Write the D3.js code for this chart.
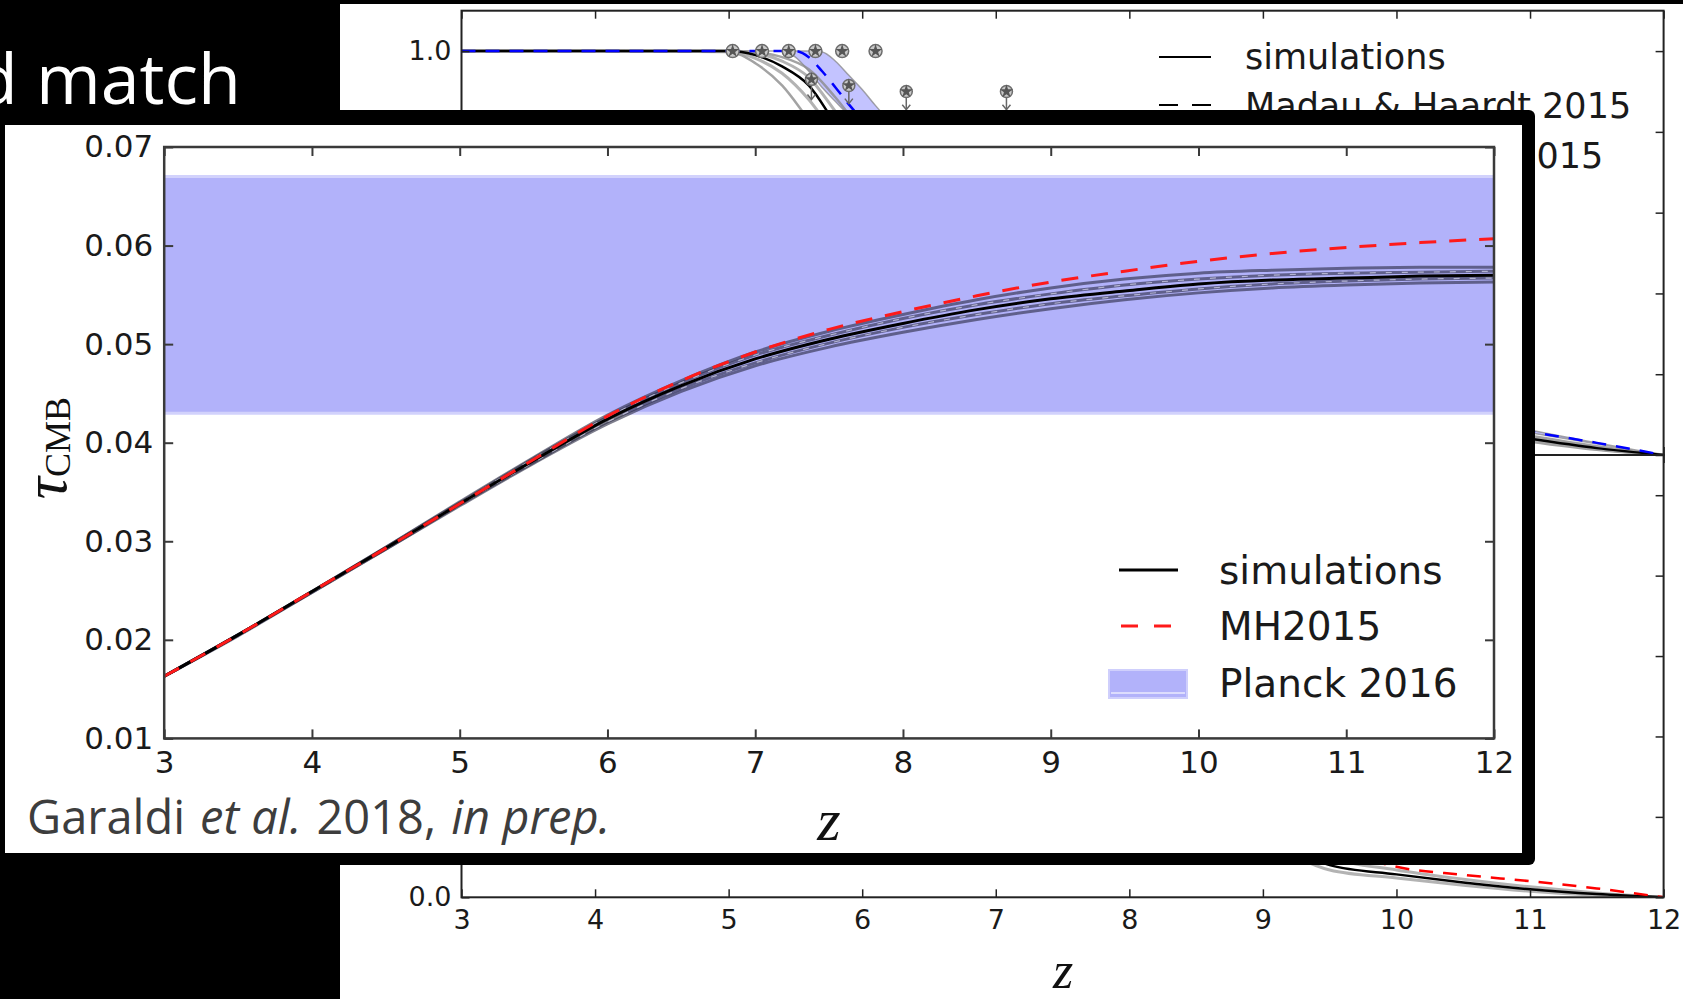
<!DOCTYPE html>
<html>
<head>
<meta charset="utf-8">
<script src="https://cdn.jsdelivr.net/npm/d3@7"></script>
<style>
  html, body { margin: 0; padding: 0; background: #000; overflow: hidden; }
  svg { display: block; }
</style>
</head>
<body>
<script>
// ---------------- data: inset figure, CMB optical depth vs redshift ----------------
const zGrid = [3, 3.5, 4, 4.5, 5, 5.5, 6, 6.5, 7, 7.5, 8, 8.5, 9, 9.5, 10, 10.5, 11, 11.5, 12];
const tauSimMean  = [0.0163, 0.0205, 0.0249, 0.0293, 0.0338, 0.0382, 0.0424, 0.0458, 0.0485, 0.0505, 0.0521, 0.0535, 0.0546, 0.0554, 0.0561, 0.0565, 0.0567, 0.0569, 0.0570];
const tauSimHigh1 = [0.0163, 0.0205, 0.0249, 0.0294, 0.0340, 0.0385, 0.0428, 0.0463, 0.0492, 0.0513, 0.0530, 0.0545, 0.0557, 0.0566, 0.0572, 0.0575, 0.0577, 0.0578, 0.0578];
const tauSimHigh2 = [0.0163, 0.0205, 0.0249, 0.0294, 0.0339, 0.0384, 0.0426, 0.0461, 0.0489, 0.0509, 0.0526, 0.0540, 0.0551, 0.0560, 0.0566, 0.0570, 0.0572, 0.0573, 0.0574];
const tauSimLow1  = [0.0163, 0.0205, 0.0248, 0.0292, 0.0337, 0.0380, 0.0421, 0.0455, 0.0481, 0.0501, 0.0517, 0.0530, 0.0541, 0.0549, 0.0556, 0.0561, 0.0564, 0.0566, 0.0567];
const tauSimLow2  = [0.0163, 0.0204, 0.0248, 0.0292, 0.0336, 0.0379, 0.0419, 0.0452, 0.0478, 0.0497, 0.0512, 0.0525, 0.0536, 0.0545, 0.0552, 0.0557, 0.0560, 0.0562, 0.0563];
const tauMH2015   = [0.0163, 0.0205, 0.0249, 0.0293, 0.0338, 0.0383, 0.0427, 0.0463, 0.0492, 0.0515, 0.0533, 0.0549, 0.0563, 0.0574, 0.0584, 0.0592, 0.0598, 0.0603, 0.0607];
const planckRange = [0.043, 0.067];
const zTicks   = [3, 4, 5, 6, 7, 8, 9, 10, 11, 12];
const tauTicks = [0.01, 0.02, 0.03, 0.04, 0.05, 0.06, 0.07];
const insetLegend = ["simulations", "MH2015", "Planck 2016"];
const citeParts = ["Garaldi", "et al.", "2018,", "in prep."];
const citeItalic = [false, true, false, true];

// ---------------- data: background figure, ionised fractions (two panels) ----------------
const zTop    = [3, 4, 5, 5.2, 5.4, 5.6, 5.8, 6, 6.5, 7, 7.5, 8, 9, 10, 11, 11.5, 12];
const xHSim   = [1, 1, 1, 0.990, 0.962, 0.915, 0.820, 0.730, 0.560, 0.440, 0.350, 0.280, 0.170, 0.095, 0.040, 0.017, 0];
const xHSimA  = [1, 1, 0.998, 0.970, 0.915, 0.830, 0.750, 0.680, 0.525, 0.410, 0.330, 0.260, 0.155, 0.085, 0.033, 0.013, 0];
const xHSimB  = [1, 1, 1, 0.997, 0.985, 0.955, 0.885, 0.800, 0.610, 0.480, 0.380, 0.300, 0.185, 0.105, 0.048, 0.022, 0];
const xHSimC  = [1, 1, 0.999, 0.982, 0.945, 0.880, 0.790, 0.705, 0.545, 0.425, 0.340, 0.270, 0.162, 0.090, 0.036, 0.015, 0];
const xHSimD  = [1, 1, 1, 0.995, 0.975, 0.935, 0.850, 0.760, 0.585, 0.460, 0.365, 0.290, 0.178, 0.100, 0.044, 0.019, 0];
const zBlue   = [3, 5, 5.5, 5.6, 5.7, 5.8, 5.9, 6, 6.5, 7, 7.5, 8, 9, 10, 11, 11.5, 12];
const xHMH    = [1, 1, 1, 0.985, 0.950, 0.910, 0.868, 0.830, 0.660, 0.520, 0.420, 0.340, 0.210, 0.120, 0.058, 0.030, 0];
const zBand   = [3, 5.4, 5.5, 5.6, 5.7, 5.8, 5.9, 6, 6.1, 6.5, 7, 8, 9, 10, 11, 12];
const xHBandLo = [1, 1, 0.985, 0.950, 0.910, 0.875, 0.840, 0.800, 0.770, 0.640, 0.500, 0.310, 0.190, 0.110, 0.055, 0];
const xHBandHi = [1, 1, 1, 1, 0.998, 0.975, 0.940, 0.905, 0.865, 0.720, 0.570, 0.370, 0.230, 0.135, 0.062, 0];

const zBot     = [3, 4, 5, 6, 7, 8, 9, 9.5, 10, 10.5, 11, 11.5, 12];
const xHeSim   = [1, 1, 0.990, 0.930, 0.750, 0.450, 0.170, 0.080, 0.057, 0.037, 0.020, 0.008, 0];
const xHeSimA  = [1, 1, 0.992, 0.940, 0.780, 0.500, 0.200, 0.100, 0.068, 0.045, 0.026, 0.011, 0];
const xHeSimB  = [1, 1, 0.985, 0.920, 0.720, 0.410, 0.150, 0.068, 0.048, 0.030, 0.015, 0.005, 0];
const xHeMH    = [1, 1, 0.995, 0.960, 0.850, 0.600, 0.260, 0.130, 0.076, 0.056, 0.040, 0.022, 0];

// quasar / Lyman-alpha constraints on the hydrogen panel
const obsZ     = [5.03, 5.25, 5.45, 5.65, 5.85, 6.10];
const obsXH    = [1.0, 1.0, 1.0, 1.0, 1.0, 1.0];
const limZ     = [5.62, 5.90, 6.33, 7.08];
const limXH    = [0.930, 0.915, 0.900, 0.900];
const limEnd   = [0.880, 0.870, 0.855, 0.855];
const fracTicks = [0, 0.2, 0.4, 0.6, 0.8, 1.0];
const topPanelLabels = [1.0];   // the only labelled fraction tick left uncovered, per panel
const botPanelLabels = [0];
const bgLegend = ["simulations", "Madau & Haardt 2015", "Bouwens et al. 2015"];

// ---------------- page ----------------
const W = 1683, H = 999;
const svg = d3.select("body").append("svg").attr("width", W).attr("height", H);
svg.append("rect").attr("width", W).attr("height", H).attr("fill", "#000");

const SANS = "'DejaVu Sans', sans-serif";
const SERIF = "'Liberation Serif', 'DejaVu Serif', serif";
const SLIDE = "'Open Sans', 'Noto Sans', sans-serif";

// slide heading (runs off the left edge)
svg.append("text").attr("x", 241).attr("y", 104).attr("text-anchor", "end")
  .attr("font-family", SLIDE).attr("font-size", 70).attr("fill", "#fff")
  .text("d match");

const pairs = (xs, ys) => xs.map((x, i) => [x, ys[i]]);

// ================= background figure =================
const bg = svg.append("g");
bg.append("rect").attr("x", 340).attr("y", 4).attr("width", W - 340).attr("height", H - 4).attr("fill", "#fff");

const bx = d3.scaleLinear().domain([3, 12]).range([461.5, 1663.6]);
const byTop = d3.scaleLinear().domain([0, 1.1]).range([455, 10.7]);
const byBot = d3.scaleLinear().domain([0, 1.1]).range([897.3, 455]);

const defs = svg.append("defs");
defs.append("clipPath").attr("id", "clipTop").append("rect")
  .attr("x", bx(3)).attr("y", byTop(1.1)).attr("width", bx(12) - bx(3)).attr("height", byTop(0) - byTop(1.1));
defs.append("clipPath").attr("id", "clipBot").append("rect")
  .attr("x", bx(3)).attr("y", byBot(1.1)).attr("width", bx(12) - bx(3)).attr("height", byBot(0) - byBot(1.1));

function drawPanelLines(g, y, sets) {
  const line = d3.line().x(d => bx(d[0])).y(d => y(d[1])).curve(d3.curveMonotoneX);
  sets.forEach(s => {
    g.append("path").attr("d", line(pairs(s.x, s.y))).attr("fill", "none")
      .attr("stroke", s.color).attr("stroke-width", s.w)
      .attr("stroke-dasharray", s.dash || null).attr("stroke-opacity", s.op || 1);
  });
}

// hydrogen panel
const gTop = bg.append("g").attr("clip-path", "url(#clipTop)");
const bandArea = d3.area().x(d => bx(d[0])).y0(d => byTop(d[1])).y1(d => byTop(d[2])).curve(d3.curveMonotoneX);
gTop.append("path").attr("d", bandArea(zBand.map((z, i) => [z, xHBandLo[i], xHBandHi[i]])))
  .attr("fill", "rgba(40,40,255,0.28)").attr("stroke", "rgba(130,130,130,0.7)").attr("stroke-width", 1.5);
drawPanelLines(gTop, byTop, [
  { x: zTop, y: xHSimA, color: "#8c8c8c", w: 2.5, op: 0.8 },
  { x: zTop, y: xHSimB, color: "#8c8c8c", w: 2.5, op: 0.8 },
  { x: zTop, y: xHSimC, color: "#a0a0a0", w: 3, op: 0.8 },
  { x: zTop, y: xHSimD, color: "#a0a0a0", w: 3, op: 0.8 },
  { x: zTop, y: xHSim, color: "#000", w: 2.5 },
  { x: zBlue, y: xHMH, color: "#0000ff", w: 2.5, dash: "14,10" }
]);

// constraints: circled stars and limits with arrows
const star = d3.symbol().type(d3.symbolStar).size(55);
obsZ.forEach((z, i) => {
  const g = gTop.append("g").attr("transform", `translate(${bx(z)},${byTop(obsXH[i])})`);
  g.append("circle").attr("r", 6.5).attr("fill", "#c9c9c9").attr("stroke", "#6d6d6d").attr("stroke-width", 1.5);
  g.append("path").attr("d", star()).attr("fill", "#555");
});
limZ.forEach((z, i) => {
  const x = bx(z), y0 = byTop(limXH[i]), y1 = byTop(limEnd[i]);
  gTop.append("line").attr("x1", x).attr("x2", x).attr("y1", y0).attr("y2", y1).attr("stroke", "#666").attr("stroke-width", 1.5);
  gTop.append("path").attr("d", `M${x - 4},${y1 - 5}L${x},${y1}L${x + 4},${y1 - 5}`).attr("fill", "none").attr("stroke", "#666").attr("stroke-width", 1.5);
  const g = gTop.append("g").attr("transform", `translate(${x},${y0})`);
  g.append("circle").attr("r", 6).attr("fill", "#c9c9c9").attr("stroke", "#6d6d6d").attr("stroke-width", 1.5);
  g.append("path").attr("d", star()).attr("fill", "#555");
});

// helium panel
const gBot = bg.append("g").attr("clip-path", "url(#clipBot)");
drawPanelLines(gBot, byBot, [
  { x: zBot, y: xHeSimA, color: "#a0a0a0", w: 3, op: 0.8 },
  { x: zBot, y: xHeSimB, color: "#a0a0a0", w: 3, op: 0.8 },
  { x: zBot, y: xHeSim, color: "#000", w: 2.5 },
  { x: zBot, y: xHeMH, color: "#ff0000", w: 2.5, dash: "14,10" }
]);

// background axes (ticks pointing inward, matplotlib classic look)
function styleAxis(g, fs) {
  g.select(".domain").remove();
  g.selectAll(".tick line").attr("stroke", "#222").attr("stroke-width", 1.5);
  g.selectAll(".tick text").attr("font-family", SANS).attr("font-size", fs).attr("fill", "#1a1a1a");
}
const bgFS = 27;
const f1 = d3.format(".1f");
[byTop, byBot].forEach((y, k) => {
  const y0 = y.range()[0], y1 = y.range()[1];
  const shown = k === 0 ? topPanelLabels : botPanelLabels;
  const gl = bg.append("g").attr("transform", `translate(${bx(3)},0)`)
    .call(d3.axisLeft(y).tickValues(fracTicks).tickFormat(d => shown.includes(d) ? f1(d) : "")
      .tickSize(-8).tickSizeOuter(0).tickPadding(10));
  styleAxis(gl, bgFS);
  const gr = bg.append("g").attr("transform", `translate(${bx(12)},0)`)
    .call(d3.axisRight(y).tickValues(fracTicks).tickFormat("").tickSize(-8).tickSizeOuter(0));
  styleAxis(gr, bgFS);
  const gt = bg.append("g").attr("transform", `translate(0,${y1})`)
    .call(d3.axisTop(bx).tickValues(zTicks).tickFormat("").tickSize(-8).tickSizeOuter(0));
  styleAxis(gt, bgFS);
  const gb = bg.append("g").attr("transform", `translate(0,${y0})`)
    .call(d3.axisBottom(bx).tickValues(zTicks).tickFormat(k === 1 ? d3.format("d") : "").tickSize(-8).tickSizeOuter(0).tickPadding(13));
  styleAxis(gb, bgFS);
  bg.append("rect").attr("x", bx(3)).attr("y", y1).attr("width", bx(12) - bx(3)).attr("height", y0 - y1)
    .attr("fill", "none").attr("stroke", "#222").attr("stroke-width", 2);
});
bg.append("text").attr("x", 1063).attr("y", 988).attr("text-anchor", "middle")
  .attr("font-family", SERIF).attr("font-style", "italic").attr("font-size", 52).attr("fill", "#111").text("z");

// background legend
const bgLeg = bg.append("g");
const bgRows = [69, 118, 168];
bgLegend.forEach((t, i) => {
  bgLeg.append("text").attr("x", 1245).attr("y", bgRows[i]).attr("font-family", SANS)
    .attr("font-size", 35).attr("fill", "#1a1a1a").text(t);
});
bgLeg.append("line").attr("x1", 1159).attr("x2", 1211).attr("y1", 57).attr("y2", 57).attr("stroke", "#000").attr("stroke-width", 2);
bgLeg.append("line").attr("x1", 1159).attr("x2", 1211).attr("y1", 105).attr("y2", 105).attr("stroke", "#000").attr("stroke-width", 2).attr("stroke-dasharray", "19,14");
bgLeg.append("rect").attr("x", 1159).attr("y", 145).attr("width", 52).attr("height", 22).attr("fill", "rgba(40,40,255,0.28)");

// ================= inset figure =================
const inset = svg.append("g");
inset.append("rect").attr("x", -20).attr("y", 110).attr("width", 1555).attr("height", 755).attr("rx", 6).attr("fill", "#000");
inset.append("rect").attr("x", 5).attr("y", 125).attr("width", 1517).attr("height", 728).attr("fill", "#fff");

const fx = d3.scaleLinear().domain([3, 12]).range([164.2, 1494]);
const fy = d3.scaleLinear().domain([0.01, 0.07]).range([738.4, 147]);

// Planck 2016 band
inset.append("rect").attr("x", fx(3)).attr("y", fy(planckRange[1]))
  .attr("width", fx(12) - fx(3)).attr("height", fy(planckRange[0]) - fy(planckRange[1]))
  .attr("fill", "#b2b2fa");
[planckRange[0], planckRange[1]].forEach(v => {
  inset.append("line").attr("x1", fx(3)).attr("x2", fx(12)).attr("y1", fy(v)).attr("y2", fy(v))
    .attr("stroke", "#d2d2fc").attr("stroke-width", 3);
});

const fLine = d3.line().x(d => fx(d[0])).y(d => fy(d[1])).curve(d3.curveMonotoneX);
const simSpread = [tauSimHigh1, tauSimHigh2, tauSimLow1, tauSimLow2];
simSpread.forEach(s => {
  inset.append("path").attr("d", fLine(pairs(zGrid, s))).attr("fill", "none")
    .attr("stroke", "rgba(40,40,65,0.6)").attr("stroke-width", 3);
});
[tauSimHigh2, tauSimLow1].forEach(s => {
  inset.append("path").attr("d", fLine(pairs(zGrid, s))).attr("fill", "none")
    .attr("stroke", "rgba(235,235,255,0.6)").attr("stroke-width", 1.2).attr("stroke-dasharray", "6,10");
});
inset.append("path").attr("d", fLine(pairs(zGrid, tauSimMean))).attr("fill", "none")
  .attr("stroke", "#000").attr("stroke-width", 3);
inset.append("path").attr("d", fLine(pairs(zGrid, tauMH2015))).attr("fill", "none")
  .attr("stroke", "#ff1a1a").attr("stroke-width", 3).attr("stroke-dasharray", "17,13");

// inset axes
const fFS = 31;
function styleInset(g) {
  g.select(".domain").remove();
  g.selectAll(".tick line").attr("stroke", "#3a3a3a").attr("stroke-width", 2);
  g.selectAll(".tick text").attr("font-family", SANS).attr("font-size", fFS).attr("fill", "#1a1a1a");
}
styleInset(inset.append("g").attr("transform", `translate(${fx(3)},0)`)
  .call(d3.axisLeft(fy).tickValues(tauTicks).tickFormat(d3.format(".2f")).tickSize(-9).tickSizeOuter(0).tickPadding(11)));
styleInset(inset.append("g").attr("transform", `translate(${fx(12)},0)`)
  .call(d3.axisRight(fy).tickValues(tauTicks).tickFormat("").tickSize(-9).tickSizeOuter(0)));
styleInset(inset.append("g").attr("transform", `translate(0,${fy(0.01)})`)
  .call(d3.axisBottom(fx).tickValues(zTicks).tickFormat(d3.format("d")).tickSize(-9).tickSizeOuter(0).tickPadding(13)));
styleInset(inset.append("g").attr("transform", `translate(0,${fy(0.07)})`)
  .call(d3.axisTop(fx).tickValues(zTicks).tickFormat("").tickSize(-9).tickSizeOuter(0)));
inset.append("rect").attr("x", fx(3)).attr("y", fy(0.07)).attr("width", fx(12) - fx(3)).attr("height", fy(0.01) - fy(0.07))
  .attr("fill", "none").attr("stroke", "#3a3a3a").attr("stroke-width", 2.5);

// axis labels
const yl = inset.append("text").attr("transform", "translate(66,448) rotate(-90)")
  .attr("text-anchor", "middle").attr("font-family", SERIF).attr("fill", "#111");
yl.append("tspan").attr("font-style", "italic").attr("font-size", 62).text("τ");
yl.append("tspan").attr("font-size", 36).attr("dy", 4).text("CMB");
inset.append("text").attr("x", 829).attr("y", 840).attr("text-anchor", "middle")
  .attr("font-family", SERIF).attr("font-style", "italic").attr("font-size", 60).attr("fill", "#111").text("z");

// inset legend
const legRows = [584, 640, 697];
insetLegend.forEach((t, i) => {
  inset.append("text").attr("x", 1219).attr("y", legRows[i]).attr("font-family", SANS)
    .attr("font-size", 39).attr("fill", "#1a1a1a").text(t);
});
inset.append("line").attr("x1", 1119).attr("x2", 1178).attr("y1", 570).attr("y2", 570).attr("stroke", "#000").attr("stroke-width", 3);
inset.append("line").attr("x1", 1121).attr("x2", 1171).attr("y1", 626).attr("y2", 626).attr("stroke", "#ff1a1a").attr("stroke-width", 3).attr("stroke-dasharray", "17,16");
inset.append("rect").attr("x", 1109).attr("y", 670).attr("width", 78).attr("height", 28).attr("fill", "#b2b2fa").attr("stroke", "#cfcffc").attr("stroke-width", 2);
inset.append("line").attr("x1", 1111).attr("x2", 1185).attr("y1", 693).attr("y2", 693).attr("stroke", "#dcdcfd").attr("stroke-width", 2);

// citation: words laid out one after another, each measured, with a word gap
let cx = 27;
citeParts.forEach((t, i) => {
  const el = inset.append("text").attr("x", cx).attr("y", 834).attr("font-family", SLIDE)
    .attr("font-size", 47).attr("fill", "#3d3d3d")
    .attr("font-style", citeItalic[i] ? "italic" : "normal").text(t);
  cx += el.node().getComputedTextLength() + 15;
});
</script>
</body>
</html>
